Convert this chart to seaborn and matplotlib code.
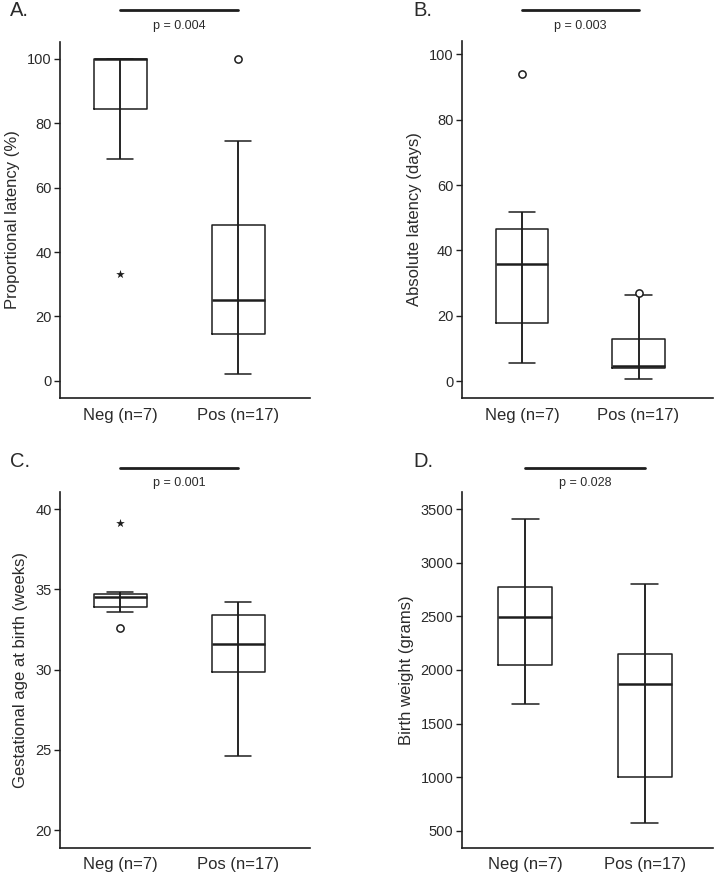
import numpy as np
import pandas as pd
import matplotlib
matplotlib.use("Agg")
import matplotlib.pyplot as plt
import seaborn as sns

# ---------------- data ----------------
groups = ["Neg (n=7)", "Pos (n=17)"]

# five-number summaries: [lower whisker, Q1, median, Q3, upper whisker]
a_neg = [69.0, 84.5, 100.0, 100.0, 100.0]
a_pos = [2.2, 14.5, 25.0, 48.5, 74.5]
a_circle_neg = []
a_circle_pos = [100.0]
a_star_neg = [33.3]
a_star_pos = []

b_neg = [5.6, 17.7, 35.8, 46.6, 51.7]
b_pos = [0.5, 3.9, 4.5, 12.9, 26.2]
b_circle_neg = [94.1]
b_circle_pos = [26.8]
b_star_neg = []
b_star_pos = []

c_neg = [33.6, 33.9, 34.5, 34.72, 34.8]
c_pos = [24.63, 29.84, 31.57, 33.38, 34.19]
c_circle_neg = [32.57]
c_circle_pos = []
c_star_neg = [39.15]
c_star_pos = []

d_neg = [1679, 2049, 2492, 2772, 3409]
d_pos = [568, 1000, 1869, 2149, 2800]
d_circle_neg = []
d_circle_pos = []
d_star_neg = []
d_star_pos = []

labels_y = ["Proportional latency (%)", "Absolute latency (days)",
            "Gestational age at birth (weeks)", "Birth weight (grams)"]
p_texts = ["p = 0.004", "p = 0.003", "p = 0.001", "p = 0.028"]
panel_letters = ["A.", "B.", "C.", "D."]
yticks_list = [[0, 20, 40, 60, 80, 100], [0, 20, 40, 60, 80, 100],
               [20, 25, 30, 35, 40], [500, 1000, 1500, 2000, 2500, 3000, 3500]]

# ---------------- style ----------------
sns.set_theme(style="ticks")
plt.rcParams["font.family"] = ["Liberation Sans", "DejaVu Sans"]
LC = "#1e1e1e"
TC = "#2a2a2a"

W, H = 717, 877
fig = plt.figure(figsize=(W / 100, H / 100), dpi=100)


def px_axes(left, top, right, bottom):
    return fig.add_axes([left / W, 1 - bottom / H, (right - left) / W, (bottom - top) / H])


def series_df(neg, pos):
    return pd.DataFrame({"group": [groups[0]] * len(neg) + [groups[1]] * len(pos),
                         "value": list(neg) + list(pos)})


def draw(ax, neg, pos, cneg, cpos, sneg, spos, ylabel, yticks, ylim, xlim,
         ptext, bar_y, text_y):
    sns.boxplot(data=series_df(neg, pos), x="group", y="value", order=groups,
                width=0.45, whis=(0, 100), fill=False, color=LC, linewidth=1.1,
                showfliers=False, medianprops={"linewidth": 1.8, "color": LC},
                ax=ax)
    # SPSS-like: whisker line continues through the box
    vert = {}
    for ln in ax.lines:
        xd = np.asarray(ln.get_xdata(), float)
        if len(xd) == 2 and np.isclose(xd[0], xd[1]):
            vert.setdefault(round(xd[0], 3), []).append(ln)
    for lines in vert.values():
        ys = np.concatenate([np.asarray(l.get_ydata(), float) for l in lines])
        for l in lines:
            l.set_ydata([ys.min(), ys.max()])
            l.set_zorder(3)

    cdf = series_df(cneg, cpos)
    if len(cdf):
        sns.stripplot(data=cdf, x="group", y="value", order=groups, jitter=False,
                      color="white", edgecolor=LC, linewidth=1.1, size=5.2,
                      ax=ax, zorder=5)
    sdf = series_df(sneg, spos)
    if len(sdf):
        sns.stripplot(data=sdf, x="group", y="value", order=groups, jitter=False,
                      color=LC, marker="*", size=6.5, linewidth=0, ax=ax, zorder=5)

    ax.set_xlim(*xlim)
    ax.set_ylim(*ylim)
    ax.set_yticks(yticks)
    ax.set_xlabel("")
    ax.set_ylabel(ylabel, fontsize=12, color=TC, labelpad=5)
    sns.despine(ax=ax)
    for s in ["left", "bottom"]:
        ax.spines[s].set_color(LC)
        ax.spines[s].set_linewidth(1.2)
    ax.tick_params(axis="y", direction="out", length=4, width=1, color=LC,
                   labelsize=10.5, labelcolor=TC, pad=2)
    ax.tick_params(axis="x", length=0, labelsize=12, labelcolor=TC, pad=7)

    tr = ax.get_xaxis_transform()
    ax.plot([0, 1], [bar_y, bar_y], transform=tr, color=LC, lw=2, clip_on=False)
    ax.text(0.5, text_y, ptext, transform=tr, ha="center", va="center",
            fontsize=9, color=TC)


axA = px_axes(60, 42, 310, 398)
axB = px_axes(461.7, 40.7, 713, 398)
axC = px_axes(60, 491.7, 310, 847.7)
axD = px_axes(461.7, 491.7, 713, 847.7)

draw(axA, a_neg, a_pos, a_circle_neg, a_circle_pos, a_star_neg, a_star_pos,
     labels_y[0], yticks_list[0], (-5.3, 105.2), (-0.51, 1.61), p_texts[0], 1.089, 1.046)
draw(axB, b_neg, b_pos, b_circle_neg, b_circle_pos, b_star_neg, b_star_pos,
     labels_y[1], yticks_list[1], (-5.2, 104.2), (-0.52, 1.64), p_texts[1], 1.085, 1.041)
draw(axC, c_neg, c_pos, c_circle_neg, c_circle_pos, c_star_neg, c_star_pos,
     labels_y[2], yticks_list[2], (18.9, 41.08), (-0.51, 1.61), p_texts[2], 1.067, 1.024)
draw(axD, d_neg, d_pos, d_circle_neg, d_circle_pos, d_star_neg, d_star_pos,
     labels_y[3], yticks_list[3], (341, 3664), (-0.53, 1.57), p_texts[3], 1.067, 1.025)

for letter, (x, y) in zip(panel_letters, [(10, 11), (413, 11), (10, 461.5), (413, 461.5)]):
    fig.text(x / W, 1 - y / H, letter, fontsize=14.5, color=TC, ha="left", va="center")

fig.savefig("out.png", dpi=100)
